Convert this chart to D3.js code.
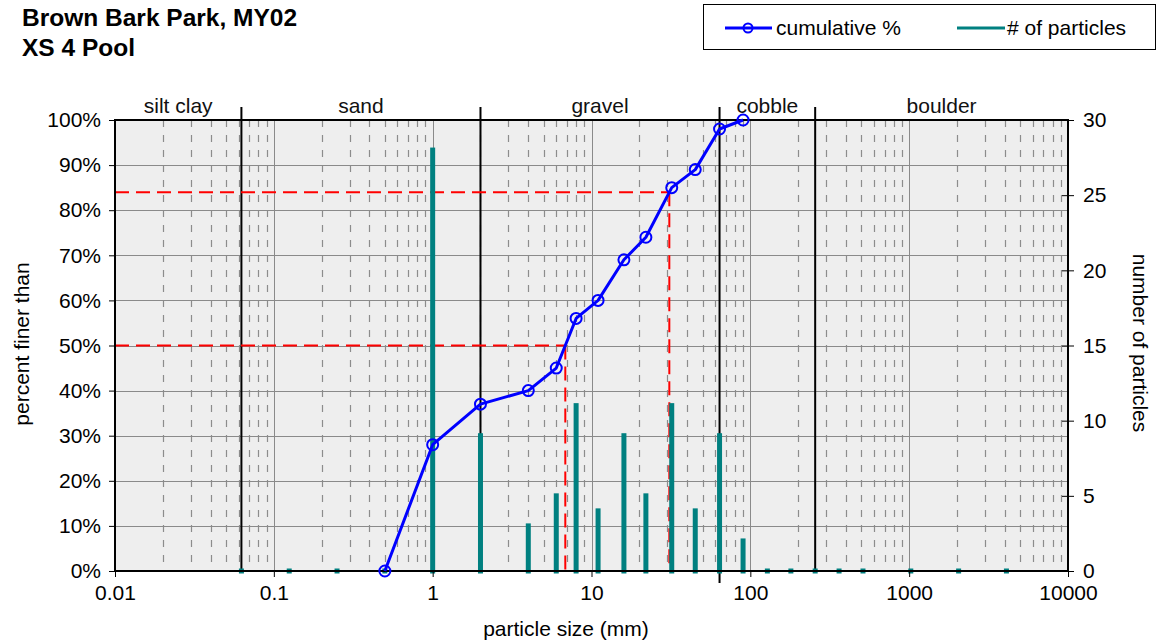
<!DOCTYPE html>
<html>
<head>
<meta charset="utf-8">
<script src="https://cdn.jsdelivr.net/npm/d3@7"></script>
<style>
  body { margin: 0; background: #fff; }
  svg { display: block; font-family: "Liberation Sans", Arial, sans-serif; }
</style>
</head>
<body>
<svg id="chart" width="1167" height="642"></svg>
<script>
// ---- data ----
const sizes  = [0.0625, 0.125, 0.25, 0.5, 1, 2, 4, 6, 8, 11, 16, 22, 32, 45, 64, 90, 128, 180, 256, 362, 512, 1024, 2048, 4096];
const counts = [0, 0, 0, 0, 28, 9, 3, 5, 11, 4, 9, 5, 11, 4, 9, 2, 0, 0, 0, 0, 0, 0, 0, 0];
const cumSizes = [0.5, 1, 2, 4, 6, 8, 11, 16, 22, 32, 45, 64, 90];
const cumPct   = [0, 28, 37, 40, 45, 56, 60, 69, 74, 85, 89, 98, 100];
const refPct   = [50, 84];
const refSize  = [6.84, 30.9];
const classNames = ["silt clay", "sand", "gravel", "cobble", "boulder"];
const classBounds = [0.01, 0.0625, 2, 64, 256, 10000];
const xTicks = [0.01, 0.1, 1, 10, 100, 1000, 10000];
const yTicks = [0, 10, 20, 30, 40, 50, 60, 70, 80, 90, 100];
const y2Ticks = [0, 5, 10, 15, 20, 25, 30];

// ---- layout ----
const svg = d3.select("#chart");
const L = 115, R = 1068, T = 120, B = 571;
const FS = 21;
const x = d3.scaleLog().domain([0.01, 10000]).range([L, R]);
const y = d3.scaleLinear().domain([0, 100]).range([B, T]);
const y2 = d3.scaleLinear().domain([0, 30]).range([B, T]);

// plot background
svg.append("rect").attr("x", L).attr("y", T).attr("width", R - L).attr("height", B - T).attr("fill", "#eeeeee");

// minor dashed vertical lines
const minors = [];
for (let d = -2; d < 4; d++) for (let m = 2; m <= 9; m++) minors.push(m * Math.pow(10, d));
svg.append("g").selectAll("line").data(minors).join("line")
  .attr("x1", d => Math.round(x(d)) + 0.5).attr("x2", d => Math.round(x(d)) + 0.5)
  .attr("y1", T).attr("y2", B)
  .attr("stroke", "#8c8c8c").attr("stroke-width", 1.2).attr("stroke-dasharray", "7,8");

// major decade vertical lines
svg.append("g").selectAll("line").data(xTicks).join("line")
  .attr("x1", d => Math.round(x(d)) + 0.5).attr("x2", d => Math.round(x(d)) + 0.5)
  .attr("y1", T).attr("y2", B).attr("stroke", "#8a8a8a").attr("stroke-width", 1);

// horizontal gridlines
svg.append("g").selectAll("line").data(yTicks).join("line")
  .attr("x1", L).attr("x2", R)
  .attr("y1", d => Math.round(y(d)) + 0.5).attr("y2", d => Math.round(y(d)) + 0.5)
  .attr("stroke", "#8a8a8a").attr("stroke-width", 1);

// class boundary lines
const bounds = classBounds.slice(1, -1);
svg.append("g").selectAll("line").data(bounds).join("line")
  .attr("x1", d => x(d)).attr("x2", d => x(d))
  .attr("y1", 107).attr("y2", d => d === 64 ? 583 : B)
  .attr("stroke", "#000").attr("stroke-width", 2);

// class labels
svg.append("g").selectAll("text").data(classNames).join("text")
  .attr("x", (d, i) => (x(classBounds[i]) + x(classBounds[i + 1])) / 2)
  .attr("y", 113).attr("text-anchor", "middle").attr("font-size", FS).attr("fill", "#111")
  .text(d => d);

// red dashed reference lines
const refG = svg.append("g");
refPct.forEach((p, i) => {
  refG.append("line").attr("x1", L).attr("x2", x(refSize[i])).attr("y1", y(p)).attr("y2", y(p))
    .attr("stroke", "#ff0000").attr("stroke-width", 2).attr("stroke-dasharray", "14,7");
  refG.append("line").attr("x1", x(refSize[i])).attr("x2", x(refSize[i])).attr("y1", y(p)).attr("y2", B)
    .attr("stroke", "#ff0000").attr("stroke-width", 2).attr("stroke-dasharray", "14,7");
});

// particle count bars
const teal = "#008080";
svg.append("g").selectAll("rect").data(sizes.map((s, i) => ({ s, c: counts[i] }))).join("rect")
  .attr("x", d => x(d.s) - 2.5).attr("width", 5)
  .attr("y", d => y2(d.c) - 2.5).attr("height", d => y2(0) - y2(d.c) + 5)
  .attr("fill", teal);

// plot border
svg.append("rect").attr("x", L).attr("y", T).attr("width", R - L).attr("height", B - T)
  .attr("fill", "none").attr("stroke", "#000").attr("stroke-width", 2);

// cumulative line
const cum = cumSizes.map((s, i) => ({ s, p: cumPct[i] }));
svg.append("path").datum(cum)
  .attr("d", d3.line().x(d => x(d.s)).y(d => y(d.p)))
  .attr("fill", "none").attr("stroke", "#0000ff").attr("stroke-width", 3).attr("stroke-linejoin", "round");
svg.append("g").selectAll("circle").data(cum).join("circle")
  .attr("cx", d => x(d.s)).attr("cy", d => y(d.p)).attr("r", 5.5)
  .attr("fill", "none").attr("stroke", "#0000ff").attr("stroke-width", 2);

// axes
const fmtX = d => d < 1 ? String(d) : d3.format("d")(d);
const gx = svg.append("g").attr("transform", `translate(0,${B})`)
  .call(d3.axisBottom(x).tickValues(xTicks).tickFormat(fmtX).tickSize(6).tickSizeOuter(0));
const gy = svg.append("g").attr("transform", `translate(${L},0)`)
  .call(d3.axisLeft(y).tickValues(yTicks).tickFormat(d => d + "%").tickSize(6).tickSizeOuter(0));
const gy2 = svg.append("g").attr("transform", `translate(${R},0)`)
  .call(d3.axisRight(y2).tickValues(y2Ticks).tickSize(6).tickSizeOuter(0));
[gx, gy, gy2].forEach(g => {
  g.select(".domain").remove();
  g.selectAll(".tick line").attr("stroke", "#000");
  g.selectAll("text").attr("font-size", FS).attr("fill", "#000").attr("font-family", "Liberation Sans, Arial, sans-serif");
});
gx.selectAll("text").attr("y", 14).attr("dy", "0.71em");
gy.selectAll("text").attr("x", -14);
gy2.selectAll("text").attr("x", 15);
gy2.selectAll(".tick line").attr("x1", -6).attr("x2", 6);

// axis titles
svg.append("text").attr("x", 566).attr("y", 636).attr("text-anchor", "middle")
  .attr("font-size", FS).text("particle size (mm)");
svg.append("text").attr("transform", `translate(29,344) rotate(-90)`).attr("text-anchor", "middle")
  .attr("font-size", FS).text("percent finer than");
svg.append("text").attr("transform", `translate(1133,343) rotate(90)`).attr("text-anchor", "middle")
  .attr("font-size", FS).text("number of particles");

// title
svg.append("text").attr("x", 22).attr("y", 26).attr("font-size", 24.5).attr("font-weight", "bold").text("Brown Bark Park, MY02");
svg.append("text").attr("x", 22).attr("y", 56).attr("font-size", 24.5).attr("font-weight", "bold").text("XS 4 Pool");

// legend
const lg = svg.append("g");
lg.append("rect").attr("x", 703.5).attr("y", 4.5).attr("width", 452).attr("height", 45)
  .attr("fill", "#fff").attr("stroke", "#000").attr("stroke-width", 1);
lg.append("line").attr("x1", 725).attr("x2", 772).attr("y1", 28).attr("y2", 28).attr("stroke", "#0000ff").attr("stroke-width", 3);
lg.append("circle").attr("cx", 748).attr("cy", 28).attr("r", 4.5).attr("fill", "none").attr("stroke", "#0000ff").attr("stroke-width", 2);
lg.append("text").attr("x", 776).attr("y", 35).attr("font-size", FS).text("cumulative %");
lg.append("line").attr("x1", 957).attr("x2", 1005).attr("y1", 28).attr("y2", 28).attr("stroke", teal).attr("stroke-width", 3);
lg.append("text").attr("x", 1007).attr("y", 35).attr("font-size", FS).text("# of particles");
</script>
</body>
</html>
